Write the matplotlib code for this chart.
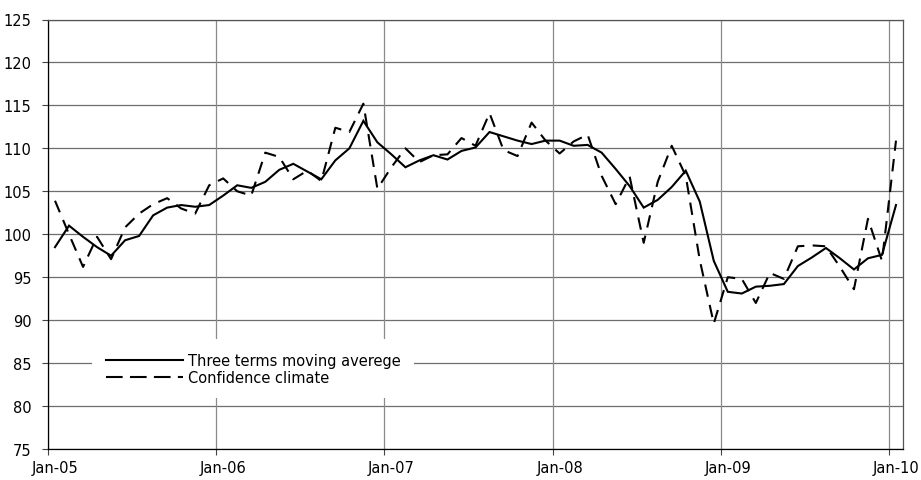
import matplotlib
matplotlib.use("Agg")
import matplotlib.pyplot as plt
from matplotlib.lines import Line2D
import numpy as np

plt.rcParams['font.family'] = ['DejaVu Sans']

# Monthly data Jan-05 ... Jan-10
moving_average = [98.5, 101.0, 99.7, 98.5, 97.5, 99.3, 99.8, 102.2, 103.1, 103.4,
                  103.2, 103.4, 104.5, 105.7, 105.4, 106.1, 107.5, 108.2, 107.3, 106.4,
                  108.6, 110.0, 113.2, 110.7, 109.3, 107.8, 108.6, 109.2, 108.7, 109.7,
                  110.1, 111.9, 111.4, 110.9, 110.5, 110.9, 110.9, 110.3, 110.4, 109.5,
                  107.6, 105.6, 103.1, 104.0, 105.5, 107.4, 103.8, 96.9, 93.3, 93.1,
                  93.9, 94.0, 94.2, 96.3, 97.3, 98.4, 97.2, 95.9, 97.2, 97.6, 103.4]
confidence = [103.9, 100.0, 96.2, 99.7, 97.1, 100.8, 102.4, 103.5, 104.2, 103.0,
              102.4, 105.7, 106.5, 105.0, 104.5, 109.5, 109.0, 106.4, 107.4, 106.2,
              112.4, 111.9, 115.2, 105.3, 107.8, 110.0, 108.4, 109.2, 109.3, 111.2,
              110.3, 114.1, 109.8, 109.1, 113.0, 110.9, 109.4, 110.8, 111.6, 106.8,
              103.5, 106.7, 99.0, 106.1, 110.3, 106.8, 97.0, 89.6, 95.0, 94.8,
              92.0, 95.5, 94.8, 98.6, 98.7, 98.6, 96.2, 93.6, 101.8, 96.9, 110.9]
year_labels = ['Jan-05', 'Jan-06', 'Jan-07', 'Jan-08', 'Jan-09', 'Jan-10']
y_ticks = [75, 80, 85, 90, 95, 100, 105, 110, 115, 120, 125]
series_names = ['Three terms moving averege', 'Confidence climate']

W, H = 921, 481
fig = plt.figure(figsize=(W / 100, H / 100), dpi=100)
ax = fig.add_axes([48 / W, (H - 450) / H, (903 - 48) / W, (450 - 20.5) / H])

months = np.arange(len(moving_average)) + 0.5
ax.plot(months, moving_average, color='black', lw=1.5, solid_joinstyle='miter', zorder=3)
ax.plot(months, confidence, color='black', lw=1.5, dashes=(6, 4), zorder=3)

ax.set_xlim(0, 61)
ax.set_ylim(75, 125)

# grid
ax.set_yticks(y_ticks)
ax.set_yticklabels([str(v) for v in y_ticks])
major_x = [12 * k for k in range(len(year_labels))]
ax.set_xticks(major_x)
ax.set_xticklabels([''] * len(major_x))
ax.set_xticks([m + 0.5 for m in major_x], minor=True)
ax.set_xticklabels(year_labels, minor=True)
ax.tick_params(axis='x', which='minor', length=0, pad=8, labelsize=10.5)
ax.tick_params(axis='x', which='major', length=4, width=0.8, color='#444444')
ax.tick_params(axis='y', length=4, width=0.8, pad=8, labelsize=10.5, color='#444444')

for v in y_ticks:
    ax.axhline(v, color='#6e6e6e', lw=0.9, zorder=1)
for m in major_x:
    ax.axvline(m, color='#8a8a8a', lw=0.9, zorder=1)

for s in ax.spines.values():
    s.set_color('#555555')
    s.set_linewidth(0.9)
ax.spines['left'].set_color('black')
ax.spines['bottom'].set_color('black')

handles = [Line2D([], [], color='black', lw=1.5),
           Line2D([], [], color='black', lw=1.5, dashes=(8, 3.5))]
leg = ax.legend(handles, series_names, loc='upper left',
                bbox_to_anchor=(92 / W, 1 - 340 / H), bbox_transform=fig.transFigure,
                borderaxespad=0, frameon=True, fancybox=False, framealpha=1,
                facecolor='white', edgecolor='none', fontsize=10.5,
                handlelength=5.3, handletextpad=0.3, labelspacing=0.12,
                borderpad=0.95)
leg.set_zorder(5)

fig.savefig('out.png', dpi=100)
